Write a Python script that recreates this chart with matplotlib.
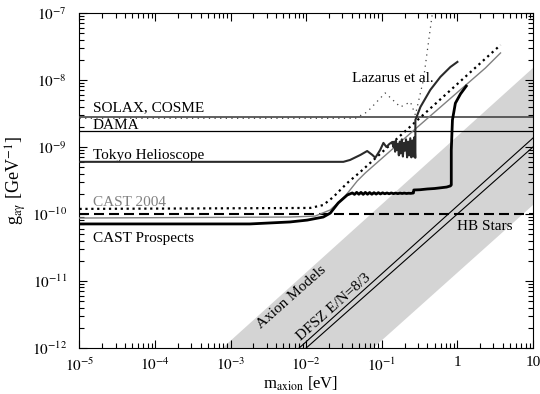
import matplotlib
matplotlib.use('Agg')
import matplotlib.pyplot as plt
from matplotlib.ticker import FixedLocator, LogLocator, NullFormatter

plt.rcParams['font.family'] = 'serif'
plt.rcParams['font.serif'] = ['Liberation Serif', 'DejaVu Serif']
plt.rcParams['mathtext.fontset'] = 'stix'

# horizontal limits (GeV^-1)
solax_g = 2.83e-9
dama_g = 1.73e-9
hb_g = 1.0e-10

# Tokyo helioscope
tokyo_m = [1e-5, 0.031, 0.038, 0.052, 0.064, 0.075, 0.082, 0.095, 0.105, 0.115, 0.126, 0.138,
           0.142, 0.146, 0.150, 0.154, 0.158, 0.163, 0.168, 0.173, 0.178, 0.184, 0.190, 0.196,
           0.202, 0.209, 0.216, 0.223, 0.230, 0.238, 0.246, 0.254, 0.262, 0.270, 0.276,
           0.278, 0.278, 0.295, 0.324, 0.438, 0.595, 0.807, 1.0]
tokyo_g = [6.0e-10, 6.0e-10, 6.4e-10, 7.6e-10, 8.7e-10, 7.6e-10, 6.9e-10, 9.0e-10, 1.15e-9, 1.0e-9, 1.11e-9, 1.19e-9,
           1.0e-9, 1.2e-9, 8.5e-10, 1.25e-9, 9.0e-10, 1.1e-9, 7.5e-10, 1.2e-9, 8.0e-10, 1.3e-9, 7.2e-10, 1.15e-9,
           8.8e-10, 1.3e-9, 7.0e-10, 1.2e-9, 7.5e-10, 1.35e-9, 7.0e-10, 1.25e-9, 7.2e-10, 1.4e-9, 6.9e-10,
           6.9e-10, 2.53e-9, 3.0e-9, 3.95e-9, 7.1e-9, 1.11e-8, 1.56e-8, 1.86e-8]

# CAST prospects
prosp_m = [1e-5, 1.8e-3, 6.1e-3, 0.0103, 0.0168, 0.0208, 0.0265, 0.0349,
           0.0407, 0.0435, 0.0465, 0.0497, 0.053, 0.0567, 0.0605, 0.0647, 0.069, 0.0738,
           0.0788, 0.0842, 0.09, 0.096, 0.1025, 0.1095, 0.117, 0.125, 0.1335, 0.1425,
           0.152, 0.163, 0.174, 0.186, 0.198, 0.212, 0.226, 0.241, 0.258, 0.262,
           0.265, 0.32, 0.40, 0.50, 0.62, 0.72, 0.807,
           0.83, 0.83, 0.86, 0.94, 1.10, 1.31]
prosp_g = [7.1e-11, 7.1e-11, 7.6e-11, 8.1e-11, 9.0e-11, 1.03e-10, 1.46e-10, 1.92e-10,
           2.06e-10, 1.96e-10, 2.10e-10, 1.97e-10, 2.10e-10, 1.96e-10, 2.10e-10, 1.97e-10, 2.09e-10, 1.97e-10,
           2.08e-10, 1.98e-10, 2.08e-10, 1.99e-10, 2.07e-10, 2.0e-10, 2.06e-10, 2.0e-10, 2.06e-10, 2.01e-10,
           2.05e-10, 2.01e-10, 2.05e-10, 2.02e-10, 2.05e-10, 2.02e-10, 2.04e-10, 2.03e-10, 2.05e-10, 2.06e-10,
           2.28e-10, 2.30e-10, 2.36e-10, 2.40e-10, 2.47e-10, 2.52e-10, 2.62e-10,
           2.71e-10, 9.0e-10, 2.53e-9, 4.5e-9, 6.2e-9, 8.1e-9]

# dotted CAST curve
dot_m = [1e-5, 0.0113, 0.0168, 0.0228, 0.0282, 0.0349, 0.0519, 0.438, 3.72]
dot_g = [1.19e-10, 1.23e-10, 1.36e-10, 1.79e-10, 2.28e-10, 2.90e-10, 4.24e-10, 3.76e-9, 3.33e-8]

# CAST 2004 (grey)
cast04_m = [1e-5, 6.1e-3, 0.0131, 0.0208, 0.0329, 0.0473, 0.0604, 0.278, 2.35, 3.72]
cast04_g = [8.7e-11, 9.0e-11, 9.3e-11, 1.15e-10, 1.86e-10, 3.11e-10, 4.09e-10, 1.86e-9, 1.51e-8, 2.53e-8]

# Lazarus et al.
laz_m = [1e-5, 0.0446, 0.064, 0.111, 0.176, 0.239, 0.278, 0.355, 0.467]
laz_g = [2.68e-9, 2.68e-9, 3.33e-9, 6.4e-9, 3.95e-9, 4.7e-9, 3.0e-9, 1.0e-8, 1.0e-7]

# axion model band and DFSZ lines
band_m = [7.8e-4, 10.0, 10.0, 0.077]
band_g = [1e-12, 1.51e-8, 1.36e-10, 1e-12]
dfsz1_m = [8.07e-3, 10.0]
dfsz1_g = [1e-12, 1.36e-9]
dfsz2_m = [0.01, 10.0]
dfsz2_g = [1e-12, 1.0e-9]

fig = plt.figure(figsize=(5.4, 3.94), dpi=100)
ax = fig.add_axes([0.1472, 0.1168, 0.8398, 0.8503])
ax.set_xscale('log')
ax.set_yscale('log')
ax.set_xlim(1e-5, 10)
ax.set_ylim(1e-12, 1e-7)

ax.fill(band_m, band_g, color='#d4d4d4', lw=0, zorder=1)
ax.plot(dfsz1_m, dfsz1_g, color='black', lw=0.8, zorder=2)
ax.plot(dfsz2_m, dfsz2_g, color='black', lw=0.8, zorder=2)

ax.axhline(solax_g, color='#444444', lw=1.2, zorder=3)
ax.axhline(dama_g, color='black', lw=0.9, zorder=3)
ax.axhline(hb_g, color='black', lw=1.5, ls=(0, (4.8, 2.4)), zorder=3)

ax.plot(laz_m, laz_g, color='#444444', lw=0.9, ls=(0, (1, 3.5)), zorder=3)
ax.plot(cast04_m, cast04_g, color='#808080', lw=1.0, zorder=4)
ax.plot(dot_m, dot_g, color='black', lw=1.6, ls=':', zorder=4)
ax.plot(tokyo_m, tokyo_g, color='#2a2a2a', lw=1.5, zorder=5)
ax.plot(prosp_m, prosp_g, color='black', lw=2.0, zorder=6)

fs = 11
ax.text(1.51e-5, 3.44e-9, 'SOLAX, COSME', fontsize=fs, va='baseline')
ax.text(1.51e-5, 1.86e-9, 'DAMA', fontsize=fs, va='baseline')
ax.text(1.51e-5, 6.6e-10, 'Tokyo Helioscope', fontsize=fs, va='baseline')
ax.text(1.51e-5, 1.33e-10, 'CAST 2004', fontsize=fs, va='baseline', color='#808080')
ax.text(1.51e-5, 3.82e-11, 'CAST Prospects', fontsize=fs, va='baseline')
ax.text(0.0407, 9.3e-9, 'Lazarus et al.', fontsize=fs, va='baseline')
ax.text(1.0, 5.8e-11, 'HB Stars', fontsize=fs, va='baseline')
ax.text(6.3e-3, 5.77e-12, 'Axion Models', fontsize=fs, rotation=41.6,
        ha='center', va='center', rotation_mode='anchor')
ax.text(0.0228, 4.09e-12, 'DFSZ E/N=8/3', fontsize=fs, rotation=41.6,
        ha='center', va='center', rotation_mode='anchor')

xt = [1e-5, 1e-4, 1e-3, 1e-2, 1e-1, 1, 10]
xt_lab = [r'$10^{-5}$', r'$10^{-4}$', r'$10^{-3}$', r'$10^{-2}$', r'$10^{-1}$', '1', '10']
ax.xaxis.set_major_locator(FixedLocator(xt))
ax.set_xticklabels(xt_lab)
ax.xaxis.set_minor_locator(LogLocator(base=10, subs=range(2, 10), numticks=20))
ax.xaxis.set_minor_formatter(NullFormatter())
yt = [1e-12, 1e-11, 1e-10, 1e-9, 1e-8, 1e-7]
ax.yaxis.set_major_locator(FixedLocator(yt))
ax.set_yticklabels([r'$10^{-12}$', r'$10^{-11}$', r'$10^{-10}$', r'$10^{-9}$', r'$10^{-8}$', r'$10^{-7}$'])
ax.yaxis.set_minor_locator(LogLocator(base=10, subs=range(2, 10), numticks=20))
ax.yaxis.set_minor_formatter(NullFormatter())

ax.tick_params(which='both', direction='in', top=True, right=True, labelsize=11)
ax.tick_params(which='major', length=6, width=0.8)
ax.tick_params(which='minor', length=3.5, width=0.8)
ax.tick_params(axis='x', pad=6)
ax.tick_params(axis='y', pad=9)

ax.set_xlabel(r'm$_{\rm axion}$ [eV]', fontsize=12, labelpad=0)
ax.xaxis.set_label_coords(0.487, -0.078)
ax.set_ylabel(r'g$_{\rm a\gamma}$ [GeV$^{-1}$]', fontsize=13, labelpad=3)

fig.savefig('out.png', dpi=100)
